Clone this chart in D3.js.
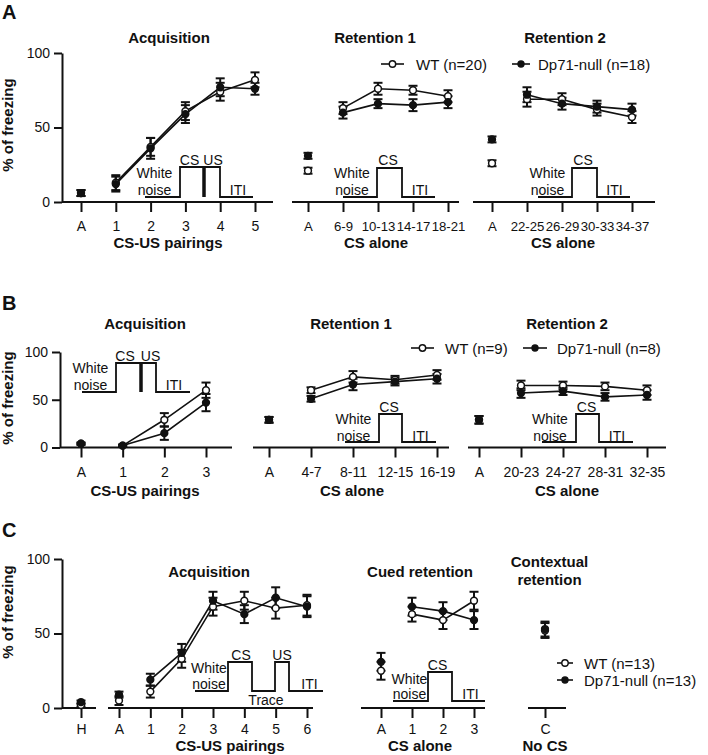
<!DOCTYPE html>
<html><head><meta charset="utf-8">
<script src="https://cdn.jsdelivr.net/npm/d3@7"></script>
<style>
body{margin:0;background:#fff;}
text{font-family:"Liberation Sans",Arial,sans-serif;fill:#111;}
</style>
</head><body>
<svg id="chart" width="708" height="755"></svg>
<script>
// ================= DATA =================
// Panel A
const aAcqCats = ["A","1","2","3","4","5"];
const aAcqWT = [6,13,37,61,74,82];
const aAcqWTe = [2,5,6,6,6,5];
const aAcqKO = [6,12,36,59,77,76];
const aAcqKOe = [2,5,7,6,6,4];
const aR1Cats = ["A","6-9","10-13","14-17","18-21"];
const aR1WT = [21,63,76,75,71];
const aR1WTe = [2,4,4,3,4];
const aR1KO = [31,60,66,65,67];
const aR1KOe = [2,4,3,4,4];
const aR2Cats = ["A","22-25","26-29","30-33","34-37"];
const aR2WT = [26,69,69,62,57];
const aR2WTe = [2,5,4,4,4];
const aR2KO = [42,72,66,64,62];
const aR2KOe = [2,5,4,4,4];
// Panel B
const bAcqCats = ["A","1","2","3"];
const bAcqWT = [4,2,29,60];
const bAcqWTe = [1,1,7,8];
const bAcqKO = [4,2,15,47];
const bAcqKOe = [1,1,7,9];
const bR1Cats = ["A","4-7","8-11","12-15","16-19"];
const bR1WT = [29,60,74,71,76];
const bR1WTe = [3,3,6,4,5];
const bR1KO = [29,51,66,69,72];
const bR1KOe = [3,3,6,4,5];
const bR2Cats = ["A","20-23","24-27","28-31","32-35"];
const bR2WT = [29,65,65,64,60];
const bR2WTe = [4,5,4,4,5];
const bR2KO = [29,57,59,53,55];
const bR2KOe = [4,5,4,4,5];
// Panel C
const cHCats = ["H"];
const cHWT = [2], cHWTe = [1], cHKO = [4], cHKOe = [1];
const cAcqCats = ["A","1","2","3","4","5","6"];
const cAcqWT = [5,11,33,68,72,67,69];
const cAcqWTe = [3,4,6,6,6,7,7];
const cAcqKO = [9,19,37,72,63,74,68];
const cAcqKOe = [2,4,6,6,6,7,7];
const cCuedCats = ["A","1","2","3"];
const cCuedWT = [25,63,59,72];
const cCuedWTe = [6,5,6,6];
const cCuedKO = [31,68,65,59];
const cCuedKOe = [6,6,6,6];
const cCtxCats = ["C"];
const cCtxWT = [52], cCtxWTe = [5], cCtxKO = [53], cCtxKOe = [5];

const yTicks = [0,50,100];
const legendA = ["WT (n=20)","Dp71-null (n=18)"];
const legendB = ["WT (n=9)","Dp71-null (n=8)"];
const legendC = ["WT (n=13)","Dp71-null (n=13)"];

// ================= DRAW =================
const svg = d3.select("#chart");

function txt(x, y, s, opt = {}) {
  return svg.append("text").attr("x", x).attr("y", y)
    .attr("text-anchor", opt.anchor || "middle")
    .attr("font-size", opt.size || 14)
    .attr("font-weight", opt.bold ? "bold" : "normal")
    .text(s);
}

function yAxis(x, y, titleX, titleY) {
  const g = svg.append("g").attr("transform", `translate(${x},0)`)
    .call(d3.axisLeft(y).tickValues(yTicks).tickSize(8).tickSizeOuter(0).tickPadding(4));
  g.selectAll("path,line").attr("stroke", "#111").attr("stroke-width", 2);
  g.selectAll("text").attr("font-size", 14).attr("font-family", '"Liberation Sans",Arial,sans-serif').attr("fill", "#111");
  svg.append("text").attr("transform", `translate(${titleX},${titleY}) rotate(-90)`)
    .attr("text-anchor", "middle").attr("font-size", 15).attr("font-weight", "bold")
    .text("% of freezing");
}

function segment(cfg) {
  const x = d3.scalePoint().domain(cfg.cats).range([cfg.t0, cfg.t1]);
  const y = cfg.y;
  const y0 = y(0);
  const g = svg.append("g").attr("transform", `translate(0,${y0})`)
    .call(d3.axisBottom(x).tickSize(10).tickSizeOuter(0));
  g.select(".domain").remove();
  g.selectAll("line").attr("stroke", "#111").attr("stroke-width", 2);
  g.selectAll("text").attr("font-size", cfg.fs || 14).attr("dy", null).attr("y", cfg.lab)
    .attr("font-family", '"Liberation Sans",Arial,sans-serif').attr("fill", "#111");
  svg.append("line").attr("x1", cfg.a0).attr("x2", cfg.a1).attr("y1", y0).attr("y2", y0)
    .attr("stroke", "#111").attr("stroke-width", 2);

  const series = [
    {v: cfg.wt, e: cfg.wte, open: true},
    {v: cfg.ko, e: cfg.koe, open: false}
  ];
  const link = cfg.link;
  series.forEach(s => {
    const pts = cfg.cats.map((c, i) => [x(c), y(s.v[i])]).filter((p, i) => i >= link);
    if (pts.length > 1) {
      svg.append("path").attr("d", d3.line()(pts)).attr("fill", "none")
        .attr("stroke", "#111").attr("stroke-width", 1.6);
    }
  });
  series.forEach(s => {
    cfg.cats.forEach((c, i) => {
      const cx = x(c), lo = y(s.v[i] - s.e[i]), hi = y(s.v[i] + s.e[i]);
      svg.append("line").attr("x1", cx).attr("x2", cx).attr("y1", lo).attr("y2", hi)
        .attr("stroke", "#111").attr("stroke-width", 2);
      [lo, hi].forEach(yy => svg.append("line").attr("x1", cx - 4.5).attr("x2", cx + 4.5)
        .attr("y1", yy).attr("y2", yy).attr("stroke", "#111").attr("stroke-width", 2));
    });
  });
  series.forEach(s => {
    cfg.cats.forEach((c, i) => {
      svg.append("circle").attr("cx", x(c)).attr("cy", y(s.v[i])).attr("r", 3.4)
        .attr("fill", s.open ? "#fff" : "#111").attr("stroke", "#111").attr("stroke-width", 1.5);
    });
  });
}

function legend(x0, x1, y, tx, label, open) {
  svg.append("line").attr("x1", x0).attr("x2", x1).attr("y1", y).attr("y2", y)
    .attr("stroke", "#111").attr("stroke-width", 1.6);
  svg.append("circle").attr("cx", (x0 + x1) / 2).attr("cy", y).attr("r", open ? 3.2 : 3)
    .attr("fill", open ? "#fff" : "#111").attr("stroke", "#111").attr("stroke-width", 1.4);
  txt(tx, y + 5.5, label, {anchor: "start", size: 15});
}

function schem(pts, bar) {
  svg.append("path").attr("d", d3.line()(pts)).attr("fill", "none")
    .attr("stroke", "#111").attr("stroke-width", 1.8);
  if (bar) svg.append("line").attr("x1", bar[0]).attr("x2", bar[0]).attr("y1", bar[1]).attr("y2", bar[2])
    .attr("stroke", "#111").attr("stroke-width", 3.5);
}

// ---------- Panel A ----------
const yA = d3.scaleLinear().domain([0, 100]).range([202, 53]);
txt(2, 19, "A", {anchor: "start", size: 20, bold: true});
yAxis(62, yA, 13, 125);
segment({cats: aAcqCats, t0: 81, t1: 255, a0: 62, a1: 273, y: yA, lab: 29, link: 1,
  wt: aAcqWT, wte: aAcqWTe, ko: aAcqKO, koe: aAcqKOe});
segment({cats: aR1Cats, t0: 308, t1: 448, a0: 292, a1: 459, y: yA, lab: 29, link: 1, fs: 13.2,
  wt: aR1WT, wte: aR1WTe, ko: aR1KO, koe: aR1KOe});
segment({cats: aR2Cats, t0: 492, t1: 632, a0: 473, a1: 655, y: yA, lab: 29, link: 1, fs: 13.2,
  wt: aR2WT, wte: aR2WTe, ko: aR2KO, koe: aR2KOe});
txt(169, 43, "Acquisition", {size: 15, bold: true});
txt(375, 43, "Retention 1", {size: 15, bold: true});
txt(565, 43, "Retention 2", {size: 15, bold: true});
txt(168, 248, "CS-US pairings", {size: 15, bold: true});
txt(376, 248, "CS alone", {size: 15, bold: true});
txt(563, 248, "CS alone", {size: 15, bold: true});
legend(381, 404, 64, 416, legendA[0], true);
legend(512, 530, 64, 538, legendA[1], false);
schem([[145,197],[180,197],[180,167],[220,167],[220,197],[253,197]], [204,167,197]);
txt(154.5, 178, "White"); txt(154.5, 195, "noise"); txt(189.5, 165, "CS"); txt(213, 165, "US"); txt(238, 195, "ITI");
schem([[343,197],[377,197],[377,168],[402,168],[402,197],[435,197]]);
txt(352, 178, "White"); txt(352, 195, "noise"); txt(388, 165, "CS"); txt(420, 195, "ITI");
schem([[538,197],[572,197],[572,168],[597,168],[597,197],[630,197]]);
txt(547.5, 178, "White"); txt(547.5, 195, "noise"); txt(583, 165, "CS"); txt(614.5, 195, "ITI");

// ---------- Panel B ----------
const yB = d3.scaleLinear().domain([0, 100]).range([447.5, 352]);
txt(2, 310, "B", {anchor: "start", size: 20, bold: true});
yAxis(60, yB, 13, 398);
segment({cats: bAcqCats, t0: 81, t1: 206, a0: 60, a1: 232, y: yB, lab: 29, link: 1,
  wt: bAcqWT, wte: bAcqWTe, ko: bAcqKO, koe: bAcqKOe});
segment({cats: bR1Cats, t0: 269, t1: 437, a0: 253, a1: 449, y: yB, lab: 29, link: 1,
  wt: bR1WT, wte: bR1WTe, ko: bR1KO, koe: bR1KOe});
segment({cats: bR2Cats, t0: 479, t1: 647, a0: 468, a1: 666, y: yB, lab: 29, link: 1,
  wt: bR2WT, wte: bR2WTe, ko: bR2KO, koe: bR2KOe});
txt(145, 329, "Acquisition", {size: 15, bold: true});
txt(351, 329, "Retention 1", {size: 15, bold: true});
txt(567, 329, "Retention 2", {size: 15, bold: true});
txt(145, 496, "CS-US pairings", {size: 15, bold: true});
txt(352, 496, "CS alone", {size: 15, bold: true});
txt(567, 496, "CS alone", {size: 15, bold: true});
legend(411, 434, 348, 445, legendB[0], true);
legend(523, 547, 348, 557, legendB[1], false);
schem([[82,392],[116,392],[116,363],[156,363],[156,392],[190,392]], [141,363,392]);
txt(90.5, 373, "White"); txt(90.5, 390, "noise"); txt(125, 361, "CS"); txt(150.5, 361, "US"); txt(174, 390, "ITI");
schem([[345,442],[379,442],[379,414],[402,414],[402,442],[436,442]]);
txt(353.5, 424, "White"); txt(353.5, 441, "noise"); txt(389, 412, "CS"); txt(420.5, 441, "ITI");
schem([[542,442],[576,442],[576,414],[599,414],[599,442],[633,442]]);
txt(550, 424, "White"); txt(550, 441, "noise"); txt(586.5, 412, "CS"); txt(617, 441, "ITI");

// ---------- Panel C ----------
const yC = d3.scaleLinear().domain([0, 100]).range([708, 559]);
txt(2, 537, "C", {anchor: "start", size: 20, bold: true});
yAxis(62, yC, 13, 612);
segment({cats: cHCats, t0: 81, t1: 81, a0: 62, a1: 96, y: yC, lab: 26, link: 1,
  wt: cHWT, wte: cHWTe, ko: cHKO, koe: cHKOe});
segment({cats: cAcqCats, t0: 119, t1: 307, a0: 108, a1: 313, y: yC, lab: 26, link: 1,
  wt: cAcqWT, wte: cAcqWTe, ko: cAcqKO, koe: cAcqKOe});
segment({cats: cCuedCats, t0: 381, t1: 474, a0: 361, a1: 485, y: yC, lab: 26, link: 1,
  wt: cCuedWT, wte: cCuedWTe, ko: cCuedKO, koe: cCuedKOe});
segment({cats: cCtxCats, t0: 545, t1: 545, a0: 528, a1: 566, y: yC, lab: 26, link: 1,
  wt: cCtxWT, wte: cCtxWTe, ko: cCtxKO, koe: cCtxKOe});
txt(209, 577, "Acquisition", {size: 15, bold: true});
txt(420, 577, "Cued retention", {size: 15, bold: true});
txt(549.5, 567, "Contextual", {size: 15, bold: true});
txt(549.5, 585, "retention", {size: 15, bold: true});
txt(230, 751, "CS-US pairings", {size: 15, bold: true});
txt(420, 751, "CS alone", {size: 15, bold: true});
txt(545, 751, "No CS", {size: 15, bold: true});
legend(557, 573, 663, 584, legendC[0], true);
legend(557, 573, 680, 584, legendC[1], false);
schem([[195,691],[228,691],[228,662],[252,662],[252,691],[275,691],[275,662],[289,662],[289,691],[323,691]]);
txt(209, 673, "White"); txt(209, 689, "noise"); txt(241, 660, "CS"); txt(282, 660, "US");
txt(266, 705, "Trace"); txt(309.5, 689, "ITI");
schem([[393,701],[428,701],[428,672],[452,672],[452,701],[485,701]]);
txt(409.5, 684, "White"); txt(409.5, 699, "noise"); txt(437.5, 670, "CS"); txt(470.5, 699, "ITI");
</script>
</body></html>
